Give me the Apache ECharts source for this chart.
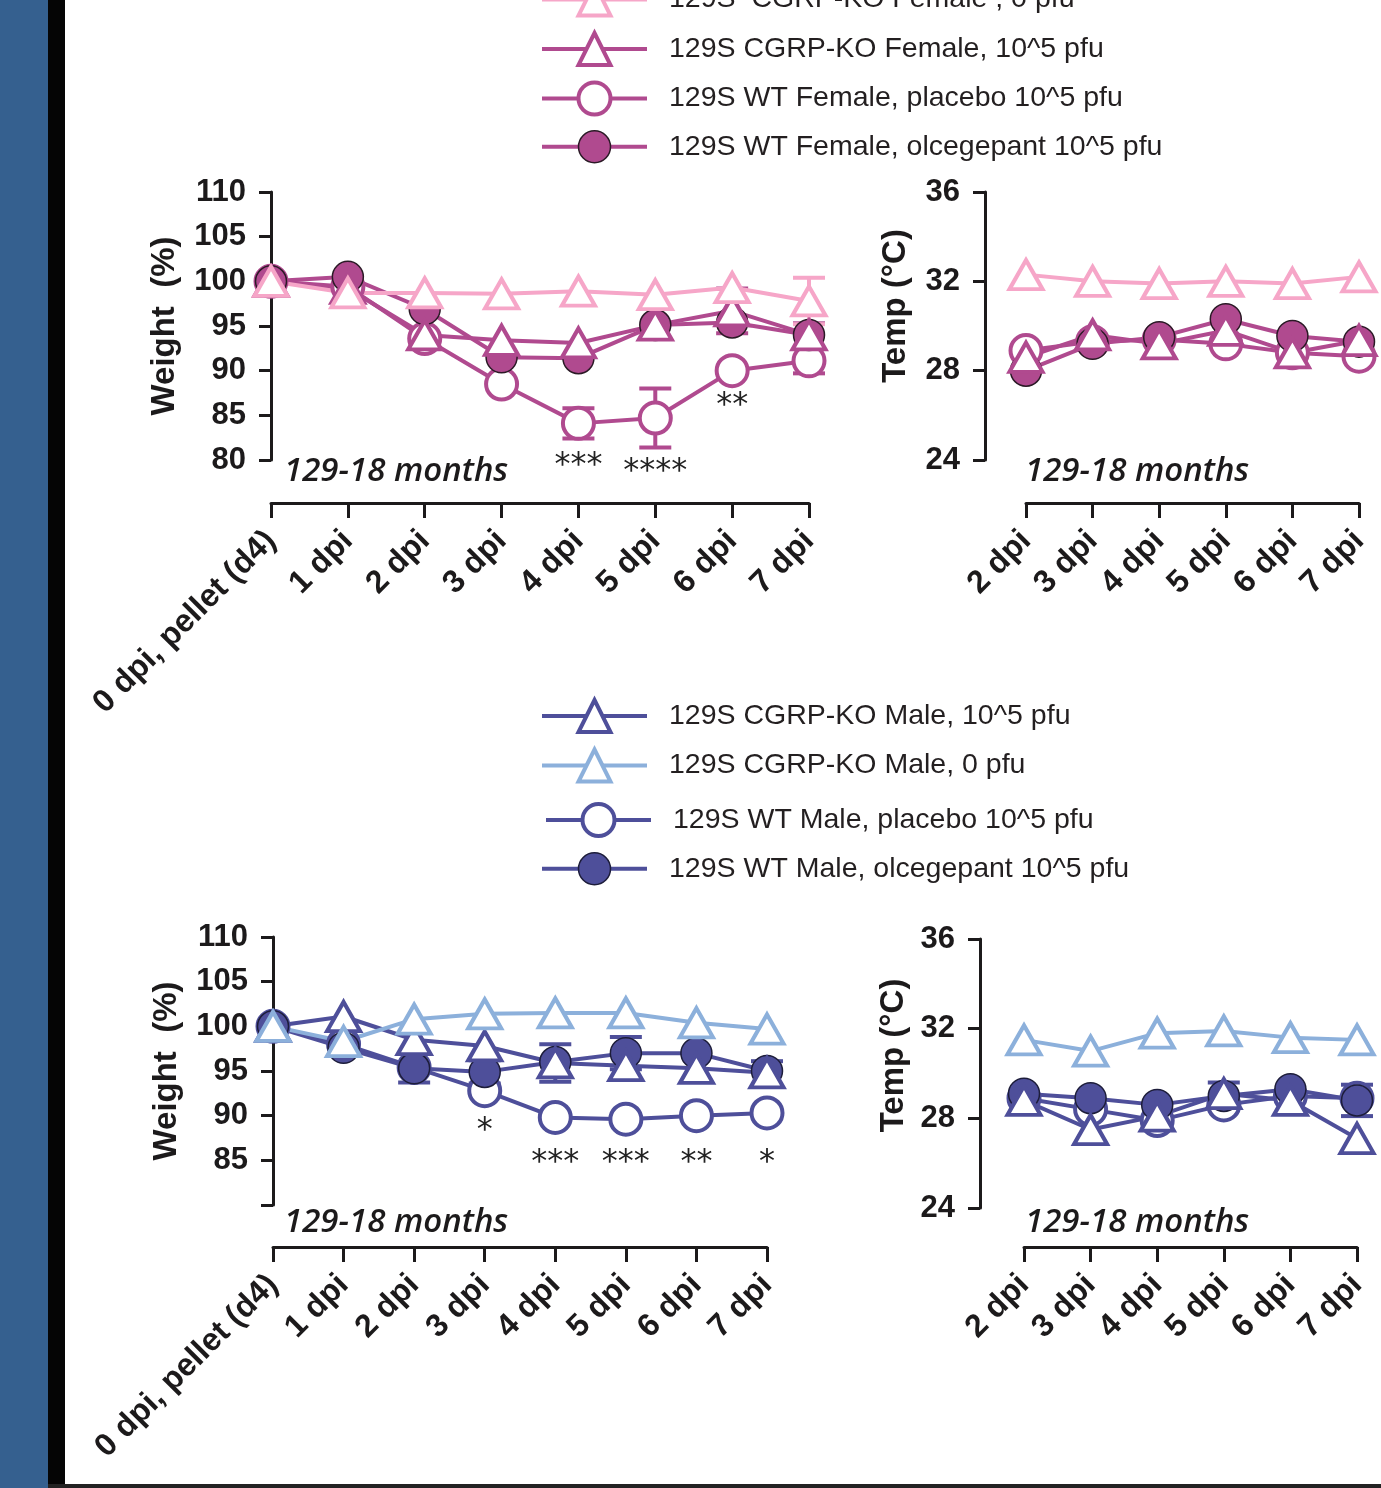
<!DOCTYPE html>
<html><head><meta charset="utf-8">
<script src="https://cdn.jsdelivr.net/npm/echarts@6/dist/echarts.min.js"></script>
<style>html,body{margin:0;padding:0;background:#fff}#c{width:1381px;height:1488px}</style>
</head><body><div id="c"></div>
<script>
// ---------------- DATA ----------------
const weightDays = ['0 dpi, pellet (d4)', '1 dpi', '2 dpi', '3 dpi', '4 dpi', '5 dpi', '6 dpi', '7 dpi'];
const tempDays = ['2 dpi', '3 dpi', '4 dpi', '5 dpi', '6 dpi', '7 dpi'];
const cohortLabel = '129-18 months';

const fNames = ['129S  CGRP-KO Female , 0 pfu', '129S CGRP-KO Female, 10^5 pfu', '129S WT Female, placebo 10^5 pfu', '129S WT Female, olcegepant 10^5 pfu'];
const mNames = ['129S CGRP-KO Male, 10^5 pfu', '129S CGRP-KO Male, 0 pfu', '129S WT Male, placebo 10^5 pfu', '129S WT Male, olcegepant 10^5 pfu'];

// Female weight (%)
const fKO0W = [100, 98.7, 98.7, 98.6, 98.9, 98.5, 99.3, 97.8];
const fKO0WErr = [0, 0, 0, 0, 0, 0, 0, 2.6];
const fKOW = [100, 99.2, 94.0, 93.4, 93.1, 95.1, 96.7, 94.0];
const fKOWErr = [0, 0, 0, 0, 0, 0, 2.5, 0];
const fPlaW = [100, 99.4, 93.6, 88.5, 84.1, 84.7, 90.0, 91.1];
const fPlaWErr = [0, 0, 0, 0, 1.7, 3.3, 0, 1.4];
const fOlcW = [100, 100.5, 96.9, 91.5, 91.4, 95.1, 95.4, 94.0];
const fOlcWErr = [0, 0, 0, 0, 0, 0, 0, 1.3];
// Female temperature (C)
const fKO0T = [32.3, 32.0, 31.9, 32.0, 31.9, 32.2];
const fKOT = [28.6, 29.6, 29.2, 29.8, 28.8, 29.35];
const fPlaT = [28.9, 29.3, 29.4, 29.2, 28.8, 28.65];
const fOlcT = [28.0, 29.2, 29.5, 30.3, 29.55, 29.3];

// Male weight (%)
const mKOW = [100, 101.1, 98.5, 97.8, 95.9, 95.6, 95.3, 94.8];
const mKOWErr = [0, 0, 0, 0, 2.1, 0, 0, 1.3];
const mKO0W = [100, 98.3, 100.8, 101.4, 101.5, 101.5, 100.4, 99.7];
const mPlaW = [100, 98.0, 95.4, 92.8, 89.8, 89.6, 90.0, 90.3];
const mOlcW = [100, 97.6, 95.3, 94.9, 96.0, 97.0, 97.0, 95.0];
const mOlcWErr = [0, 0, 1.6, 1.3, 0, 1.8, 0, 0];
// Male temperature (C)
const mKOT = [28.8, 27.5, 28.1, 29.1, 28.8, 27.1];
const mKOTErr = [0, 0, 0, 0.5, 0, 0];
const mKO0T = [31.5, 31.0, 31.8, 31.9, 31.6, 31.5];
const mPlaT = [28.9, 28.4, 27.9, 28.6, 29.0, 28.9];
const mOlcT = [29.1, 28.9, 28.6, 29.0, 29.3, 28.8];
const mOlcTErr = [0, 0, 0, 0, 0, 0.7];

// significance marks [category, value, text]
const fStars = [['4 dpi', 80.0, '***'], ['5 dpi', 79.4, '****'], ['6 dpi', 86.7, '**']];
const mStars = [['3 dpi', 89.0, '*'], ['4 dpi', 85.45, '***'], ['5 dpi', 85.45, '***'], ['6 dpi', 85.45, '**'], ['7 dpi', 85.45, '*']];

// ---------------- STYLE ----------------
const INK = '#1c1a1b';
const MAG = '#b04a8f', PINK = '#f6a6c8', NAVY = '#4e4f9a', SKY = '#8cb0db';
const TRI = [33, 29], CIR = 31;
const LW = 4;
const sty = {
  fKO0: {symbol: 'triangle', size: TRI, line: PINK, fill: '#fff', border: PINK, bw: 4},
  fKO:  {symbol: 'triangle', size: TRI, line: MAG, fill: '#fff', border: MAG, bw: 4},
  fPla: {symbol: 'circle', size: CIR, line: MAG, fill: '#fff', border: MAG, bw: 4},
  fOlc: {symbol: 'circle', size: CIR, line: MAG, fill: MAG, border: '#2b1a26', bw: 1.5},
  mKO0: {symbol: 'triangle', size: TRI, line: SKY, fill: '#fff', border: SKY, bw: 4},
  mKO:  {symbol: 'triangle', size: TRI, line: NAVY, fill: '#fff', border: NAVY, bw: 4},
  mPla: {symbol: 'circle', size: CIR, line: NAVY, fill: '#fff', border: NAVY, bw: 4},
  mOlc: {symbol: 'circle', size: CIR, line: NAVY, fill: NAVY, border: '#1d1d3a', bw: 1.5}
};
const fKeys = ['fKO0', 'fKO', 'fPla', 'fOlc'];
const mKeys = ['mKO', 'mKO0', 'mPla', 'mOlc'];

function lineS(name, gi, data, s) {
  return {
    type: 'line', name, xAxisIndex: gi, yAxisIndex: gi, data, z: 3,
    symbol: s.symbol, symbolSize: s.size, showAllSymbol: true,
    lineStyle: {color: s.line, width: LW},
    itemStyle: {color: s.fill, borderColor: s.border, borderWidth: s.bw},
    emphasis: {disabled: true}, animation: false, silent: true
  };
}
function errS(gi, vals, errs, color) {
  return {
    type: 'custom', xAxisIndex: gi, yAxisIndex: gi, z: 2, silent: true, animation: false,
    data: vals.map((v, i) => [i, v, errs[i] || 0]).filter(d => d[2] > 0),
    renderItem(p, api) {
      const x = api.value(0), v = api.value(1), e = api.value(2);
      const t = api.coord([x, v + e]), b = api.coord([x, v - e]), hw = 16;
      const st = {stroke: color, lineWidth: LW};
      return {type: 'group', children: [
        {type: 'line', shape: {x1: t[0], y1: t[1], x2: b[0], y2: b[1]}, style: st},
        {type: 'line', shape: {x1: t[0] - hw, y1: t[1], x2: t[0] + hw, y2: t[1]}, style: st},
        {type: 'line', shape: {x1: b[0] - hw, y1: b[1], x2: b[0] + hw, y2: b[1]}, style: st}
      ]};
    }
  };
}
function starS(gi, marks, cats) {
  return {
    type: 'custom', xAxisIndex: gi, yAxisIndex: gi, z: 4, silent: true, animation: false,
    data: marks.map(m => [cats.indexOf(m[0]), m[1]]),
    renderItem(p, api) {
      const c = api.coord([api.value(0), api.value(1)]);
      const txt = marks[p.dataIndex][2];
      return {type: 'text', x: c[0], y: c[1] + 6, style: {text: txt, font: '32px "DejaVu Sans"', fill: '#222', align: 'center', verticalAlign: 'middle'}};
    }
  };
}

const FONT = '"Liberation Sans", Arial, sans-serif';
const axisLineStyle = {color: INK, width: 3};
function xAx(gi, cats, offset) {
  return {
    type: 'category', gridIndex: gi, data: cats, boundaryGap: false, offset,
    axisLine: {show: true, lineStyle: axisLineStyle},
    axisTick: {show: true, length: 15, alignWithLabel: true, interval: 0, lineStyle: {color: INK, width: 3}},
    axisLabel: {interval: 0, rotate: 45, margin: 33, color: INK, fontSize: 32, fontWeight: 'bold', fontFamily: FONT},
    splitLine: {show: false}
  };
}
function yAx(gi, min, max, interval, name, nameGap, offset, hideMin, namePad) {
  return {
    type: 'value', gridIndex: gi, min, max, interval, offset,
    axisLine: {show: true, lineStyle: axisLineStyle},
    axisTick: {show: true, length: 12, lineStyle: {color: INK, width: 3}},
    splitLine: {show: false},
    axisLabel: {margin: 25, color: INK, fontSize: 31, fontWeight: 'bold', fontFamily: FONT,
      formatter: v => (hideMin && v === min) ? '' : String(v)},
    name, nameLocation: 'middle', nameGap,
    nameTextStyle: {color: INK, fontSize: 33, fontWeight: 'bold', fontFamily: FONT, padding: namePad || 0}
  };
}

function legItem(name, key) {
  const s = sty[key];
  return {name, lineStyle: {width: LW, color: s.line}, itemStyle: {color: s.fill, borderColor: s.border, borderWidth: s.bw}};
}
const legendBase = {
  orient: 'vertical', itemWidth: 105, itemHeight: 40, itemGap: 13.5, padding: 0, selectedMode: false,
  textStyle: {fontSize: 28.5, color: '#231f20', fontFamily: FONT, padding: [0, 0, 0, 17]}
};

function monthsText(x, y) {
  return {type: 'text', left: x, top: y, silent: true,
    style: {text: cohortLabel, font: 'italic 600 33px "Open Sans", sans-serif', fill: INK}};
}

const option = {
  backgroundColor: '#fff',
  animation: false,
  grid: [
    {left: 271, top: 192, width: 538, height: 268},
    {left: 1026, top: 192, width: 333, height: 268},
    {left: 273, top: 937, width: 494, height: 268},
    {left: 1024, top: 939, width: 333, height: 269}
  ],
  xAxis: [xAx(0, weightDays, 43), xAx(1, tempDays, 43), xAx(2, weightDays, 42), xAx(3, tempDays, 39)],
  yAxis: [
    yAx(0, 80, 110, 5, 'Weight  (%)', 90, 0, false),
    yAx(1, 24, 36, 4, 'Temp (°C)', 73, 41, false, [0, 0, 0, 40]),
    yAx(2, 80, 110, 5, 'Weight  (%)', 90, 0, true),
    yAx(3, 24, 36, 4, 'Temp (°C)', 70, 44, false, [0, 0, 0, 36])
  ],
  legend: [
    Object.assign({}, legendBase, {data: fNames.map((n, i) => legItem(n, fKeys[i])), left: 540, top: -18.5}),
    Object.assign({}, legendBase, {data: [legItem(mNames[0], mKeys[0]), legItem(mNames[1], mKeys[1])], left: 540, top: 698}),
    Object.assign({}, legendBase, {data: [legItem(mNames[2], mKeys[2])], left: 544, top: 802}),
    Object.assign({}, legendBase, {data: [legItem(mNames[3], mKeys[3])], left: 540, top: 852})
  ],
  graphic: [
    {type: 'rect', left: 0, top: 0, shape: {width: 48, height: 1488}, style: {fill: '#35608f'}, silent: true},
    {type: 'rect', left: 48, top: 0, shape: {width: 17, height: 1488}, style: {fill: '#050505'}, silent: true},
    {type: 'rect', left: 48, top: 1484, shape: {width: 1333, height: 4}, style: {fill: '#222'}, silent: true},
    monthsText(284, 455), monthsText(1025, 455), monthsText(284, 1206), monthsText(1025, 1206)
  ],
  series: [
    // female weight
    errS(0, fPlaW, fPlaWErr, MAG), errS(0, fOlcW, fOlcWErr, MAG), errS(0, fKOW, fKOWErr, MAG), errS(0, fKO0W, fKO0WErr, PINK),
    lineS(fNames[2], 0, fPlaW, sty.fPla), lineS(fNames[3], 0, fOlcW, sty.fOlc), lineS(fNames[1], 0, fKOW, sty.fKO), lineS(fNames[0], 0, fKO0W, sty.fKO0),
    starS(0, fStars, weightDays),
    // female temp
    lineS(fNames[2], 1, fPlaT, sty.fPla), lineS(fNames[3], 1, fOlcT, sty.fOlc), lineS(fNames[1], 1, fKOT, sty.fKO), lineS(fNames[0], 1, fKO0T, sty.fKO0),
    // male weight
    errS(2, mOlcW, mOlcWErr, NAVY), errS(2, mKOW, mKOWErr, NAVY),
    lineS(mNames[2], 2, mPlaW, sty.mPla), lineS(mNames[3], 2, mOlcW, sty.mOlc), lineS(mNames[0], 2, mKOW, sty.mKO), lineS(mNames[1], 2, mKO0W, sty.mKO0),
    starS(2, mStars, weightDays),
    // male temp
    errS(3, mOlcT, mOlcTErr, NAVY), errS(3, mKOT, mKOTErr, NAVY),
    lineS(mNames[2], 3, mPlaT, sty.mPla), lineS(mNames[3], 3, mOlcT, sty.mOlc), lineS(mNames[0], 3, mKOT, sty.mKO), lineS(mNames[1], 3, mKO0T, sty.mKO0)
  ]
};
const chart = echarts.init(document.getElementById('c'), null, {renderer: 'canvas'});
chart.setOption(option);
</script>
</body></html>
